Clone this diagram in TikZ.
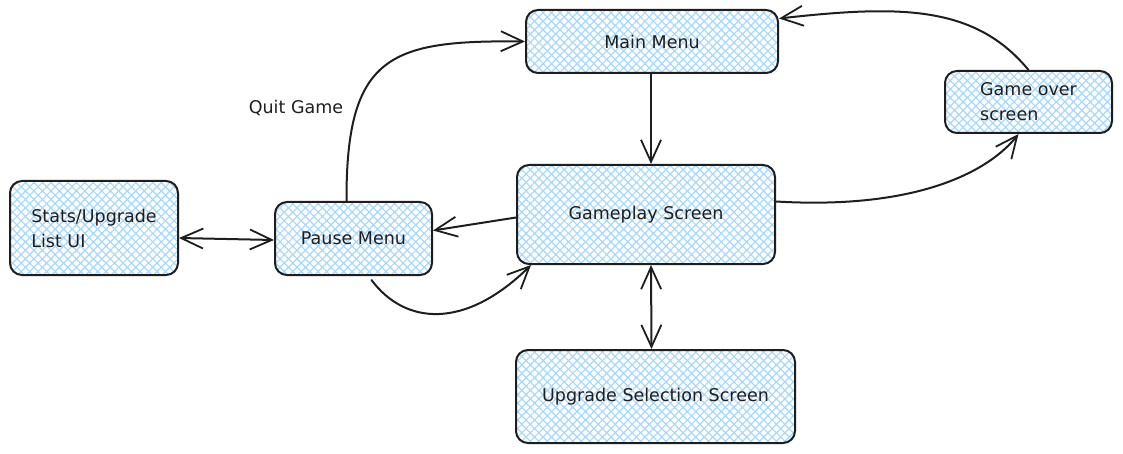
\documentclass[tikz,border=0pt]{standalone}
\usepackage{fontspec}
\setmainfont{DejaVu Sans}
\usetikzlibrary{arrows.meta,patterns.meta}
\definecolor{hatch}{HTML}{A5D8FF}
\definecolor{ink}{HTML}{1E1E1E}
\tikzset{
  screen/.style={draw=ink, line width=2pt, rounded corners=12pt, inner sep=0pt,
    text=ink, font=\fontsize{17.5}{25}\selectfont, align=left,
    preaction={pattern={Lines[angle=45,distance=6pt,line width=1.2pt]},pattern color=hatch},
    preaction={pattern={Lines[angle=-45,distance=6pt,line width=1.2pt]},pattern color=hatch}},
  conn/.style={draw=ink, line width=2pt, line cap=round},
  tip/.style={-{Straight Barb[length=22pt,width=20pt,line width=1.8pt]}},
  tips/.style={{Straight Barb[length=22pt,width=20pt,line width=1.8pt]}-{Straight Barb[length=22pt,width=20pt,line width=1.8pt]}},
  lbl/.style={text=ink, font=\fontsize{17.5}{25}\selectfont}
}
\begin{document}
\begin{tikzpicture}[x=1pt,y=-1pt]
\useasboundingbox (0,0) rectangle (1123,454);
\node[screen, minimum width=252pt, minimum height=63pt] (main) at (652,41.5) {Main Menu};
\node[screen, minimum width=167pt, minimum height=62pt] (over) at (1028.5,102) {Game over\\screen};
\node[screen, minimum width=258pt, minimum height=99pt] (game) at (646,214.5) {Gameplay Screen};
\node[screen, minimum width=157pt, minimum height=73pt] (pause) at (353.5,238.5) {Pause Menu};
\node[screen, minimum width=168pt, minimum height=94pt] (stats) at (94,228) {Stats/Upgrade\\List UI};
\node[screen, minimum width=279pt, minimum height=93pt] (upg) at (655.5,396.5) {Upgrade Selection Screen};
\node[lbl] (quit) at (296,108) {Quit Game};

\draw[conn,tip] ([xshift=-7pt]pause.north) .. controls (346,55) and (390,40) .. (main.west);
\draw[conn,tip] ([xshift=-1pt]main.south) -- ([xshift=5pt]game.north);
\draw[conn,tip] ([yshift=13pt]game.east) .. controls (920,210) and (990,170) .. ([xshift=-10pt]over.south);
\draw[conn,tip] (over.north) .. controls (975,5) and (900,5) .. ([yshift=23pt]main.east);
\draw[conn,tip] ([yshift=-3pt]game.west) -- ([yshift=8pt]pause.east);
\draw[conn,tip] ([xshift=18pt,yshift=-4pt]pause.south) .. controls (405,325) and (465,330) .. ([xshift=15pt]game.south west);
\draw[conn,tips] ([xshift=5pt]game.south) -- ([xshift=-4pt]upg.north);
\draw[conn,tips] ([yshift=-10pt]stats.east) -- ([yshift=-1.5pt]pause.west);
\end{tikzpicture}
\end{document}
